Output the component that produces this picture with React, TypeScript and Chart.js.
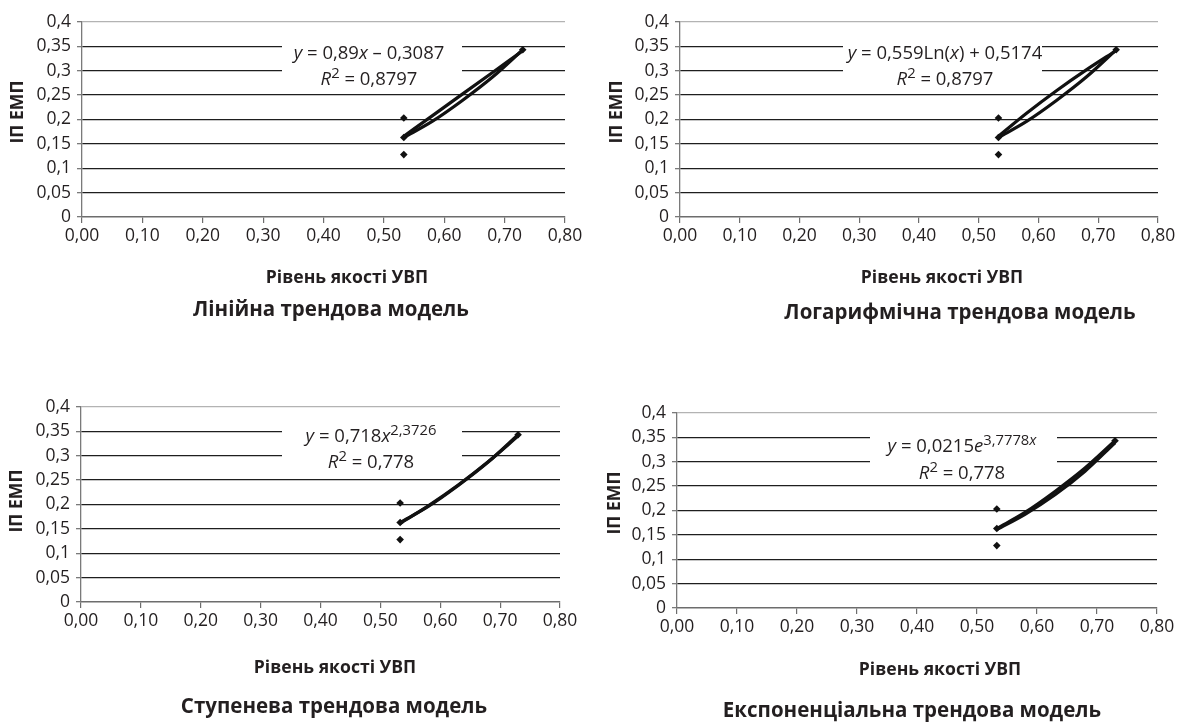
import React, { useEffect, useRef } from 'react';
import { Chart, registerables } from 'chart.js';

Chart.register(...registerables);

// ---------------- data ----------------
const curveX = [0.533, 0.58, 0.63, 0.68, 0.73];
const observedX = [0.533, 0.533, 0.533, 0.73];
const observedY = [0.203, 0.128, 0.163, 0.343];
const fittedCurve = [0.163, 0.196, 0.239, 0.287, 0.343];
const linearTrend = [0.1657, 0.2075, 0.252, 0.2965, 0.341];
const logTrend = [0.1657, 0.2129, 0.2591, 0.3018, 0.3415];
const powerTrend = [0.1613, 0.1972, 0.2399, 0.2876, 0.3403];
const expTrend = [0.161, 0.1923, 0.2323, 0.2806, 0.3389];

const xAxisTitle = 'Рівень якості УВП';
const yAxisTitle = 'ІП ЕМП';
const panelTitles = [
  'Лінійна трендова модель',
  'Логарифмічна трендова модель',
  'Ступенева трендова модель',
  'Експоненціальна трендова модель',
];

type Seg = { t: string; i?: boolean; sup?: boolean };

const linearEq: Seg[][] = [
  [{ t: 'y', i: true }, { t: ' = 0,89' }, { t: 'x', i: true }, { t: ' – 0,3087' }],
  [{ t: 'R', i: true }, { t: '2', sup: true }, { t: ' = 0,8797' }],
];
const logEq: Seg[][] = [
  [{ t: 'y', i: true }, { t: ' = 0,559Ln(' }, { t: 'x', i: true }, { t: ') + 0,5174' }],
  [{ t: 'R', i: true }, { t: '2', sup: true }, { t: ' = 0,8797' }],
];
const powerEq: Seg[][] = [
  [{ t: 'y', i: true }, { t: ' = 0,718' }, { t: 'x', i: true }, { t: '2,3726', sup: true }],
  [{ t: 'R', i: true }, { t: '2', sup: true }, { t: ' = 0,778' }],
];
const expEq: Seg[][] = [
  [{ t: 'y', i: true }, { t: ' = 0,0215' }, { t: 'e', i: true }, { t: '3,7778', sup: true }, { t: 'x', i: true, sup: true }],
  [{ t: 'R', i: true }, { t: '2', sup: true }, { t: ' = 0,778' }],
];

// ---------------- layout ----------------
const FONT = '"Open Sans", "Noto Sans", sans-serif';
const INK = '#231f20';

interface PanelSpec {
  ox: number; oy: number; w: number; h: number;
  L: number; R: number; T: number; B: number; // plot area, page coords
  trend: number[];
  eq: Seg[][];
  box: [number, number, number, number]; // x0, x1, y0, y1 page coords
  eqCx: number; eqY: [number, number];
  yT: [number, number]; xT: [number, number]; tT: [number, number];
  title: string;
}

const panels: PanelSpec[] = [
  {
    ox: 0, oy: 0, w: 596, h: 361, L: 82, R: 565, T: 22, B: 217,
    trend: linearTrend, eq: linearEq, box: [282, 462, 36, 88], eqCx: 369, eqY: [52, 78],
    yT: [18, 112], xT: [347, 278], tT: [331, 310], title: panelTitles[0],
  },
  {
    ox: 596, oy: 0, w: 596, h: 361, L: 680, R: 1158, T: 22, B: 217,
    trend: logTrend, eq: logEq, box: [843, 1042, 36, 88], eqCx: 945, eqY: [52, 78],
    yT: [617, 112], xT: [942, 278], tT: [960, 313], title: panelTitles[1],
  },
  {
    ox: 0, oy: 361, w: 596, h: 361, L: 81, R: 560, T: 407, B: 602,
    trend: powerTrend, eq: powerEq, box: [282, 462, 421, 473], eqCx: 371, eqY: [435, 461],
    yT: [17, 501], xT: [335, 668], tT: [334, 707], title: panelTitles[2],
  },
  {
    ox: 596, oy: 361, w: 596, h: 361, L: 677, R: 1157, T: 413, B: 608,
    trend: expTrend, eq: expEq, box: [870, 1057, 430, 483], eqCx: 962, eqY: [445, 472],
    yT: [615, 503], xT: [940, 670], tT: [912, 711], title: panelTitles[3],
  },
];

function drawRich(ctx: CanvasRenderingContext2D, segs: Seg[], cx: number, cy: number, size: number) {
  const fontOf = (s: Seg) => `${s.i ? 'italic ' : ''}${s.sup ? size * 0.8 : size}px ${FONT}`;
  let total = 0;
  const widths = segs.map((s) => {
    ctx.font = fontOf(s);
    const w = ctx.measureText(s.t).width;
    total += w;
    return w;
  });
  let x = cx - total / 2;
  const base = cy + size * 0.36;
  ctx.textAlign = 'left';
  ctx.textBaseline = 'alphabetic';
  segs.forEach((s, k) => {
    ctx.font = fontOf(s);
    ctx.fillText(s.t, x, s.sup ? base - size * 0.38 : base);
    x += widths[k];
  });
}

function Panel({ spec }: { spec: PanelSpec }) {
  const ref = useRef<HTMLCanvasElement | null>(null);
  useEffect(() => {
    if (!ref.current) return;
    const lx = (v: number) => v - spec.ox;
    const ly = (v: number) => v - spec.oy;
    const xAxisH = 40;
    const annot = {
      id: 'annot' + spec.title,
      beforeDatasetsDraw(chart: any) {
        const ctx: CanvasRenderingContext2D = chart.ctx;
        ctx.save();
        ctx.fillStyle = '#ffffff';
        const [x0, x1, y0, y1] = spec.box;
        ctx.fillRect(lx(x0), ly(y0), x1 - x0, y1 - y0);
        ctx.fillStyle = INK;
        drawRich(ctx, spec.eq[0], lx(spec.eqCx), ly(spec.eqY[0]), 18.5);
        drawRich(ctx, spec.eq[1], lx(spec.eqCx), ly(spec.eqY[1]), 18.5);
        ctx.restore();
      },
      afterDraw(chart: any) {
        const ctx: CanvasRenderingContext2D = chart.ctx;
        ctx.save();
        ctx.fillStyle = INK;
        ctx.textAlign = 'center';
        ctx.textBaseline = 'middle';
        ctx.font = `bold 17.6px ${FONT}`;
        ctx.fillText(xAxisTitle, lx(spec.xT[0]), ly(spec.xT[1]));
        ctx.save();
        ctx.translate(lx(spec.yT[0]), ly(spec.yT[1]));
        ctx.rotate(-Math.PI / 2);
        ctx.fillText(yAxisTitle, 0, 0);
        ctx.restore();
        ctx.font = `bold 20.5px ${FONT}`;
        ctx.fillText(spec.title, lx(spec.tT[0]), ly(spec.tT[1]));
        ctx.restore();
      },
    };
    const chart = new Chart(ref.current, {
      type: 'scatter',
      data: {
        datasets: [
          {
            data: curveX.map((x, k) => ({ x, y: spec.trend[k] })),
            showLine: true,
            borderColor: '#111',
            borderWidth: 3.2,
            pointRadius: 0,
            cubicInterpolationMode: 'monotone',
          } as any,
          {
            data: curveX.map((x, k) => ({ x, y: fittedCurve[k] })),
            showLine: true,
            borderColor: '#111',
            borderWidth: 3.2,
            pointRadius: 0,
            cubicInterpolationMode: 'monotone',
          } as any,
          {
            data: observedX.map((x, k) => ({ x, y: observedY[k] })),
            showLine: false,
            pointStyle: 'rectRot',
            pointRadius: 3.8,
            backgroundColor: '#111',
            borderWidth: 0,
          } as any,
        ],
      },
      options: {
        responsive: false,
        animation: false,
        events: [],
        layout: {
          padding: {
            left: 0,
            top: ly(spec.T),
            right: spec.w - lx(spec.R),
            bottom: spec.h - ly(spec.B) - xAxisH,
          },
        },
        plugins: { legend: { display: false }, tooltip: { enabled: false }, title: { display: false } },
        scales: {
          x: {
            type: 'linear',
            min: 0,
            max: 0.8,
            afterFit: (s: any) => { s.height = xAxisH; },
            border: { display: true, color: '#6d6d6d', width: 1.6 },
            grid: { display: true, drawOnChartArea: false, drawTicks: true, tickLength: 6, color: '#6d6d6d', lineWidth: 1.2 },
            ticks: {
              stepSize: 0.1,
              autoSkip: false,
              maxRotation: 0,
              padding: 3,
              color: INK,
              font: { family: FONT, size: 17.5 },
              callback: (v: any) => Number(v).toFixed(2).replace('.', ','),
            },
          },
          y: {
            type: 'linear',
            min: 0,
            max: 0.4,
            afterFit: (s: any) => { s.width = lx(spec.L); },
            border: { display: true, color: '#7a7a7a', width: 1.3 },
            grid: {
              display: true,
              drawTicks: true,
              tickLength: 5,
              tickColor: '#7a7a7a',
              lineWidth: 1.3,
              color: (c: any) => {
                const v = c.tick ? c.tick.value : 0;
                if (Math.abs(v - 0.4) < 1e-6) return '#b3b3b3';
                if (Math.abs(v) < 1e-6) return 'rgba(0,0,0,0)';
                return '#1e1e1e';
              },
            },
            ticks: {
              stepSize: 0.05,
              padding: 6,
              color: INK,
              font: { family: FONT, size: 17.5 },
              callback: (v: any) => String(parseFloat(Number(v).toFixed(2))).replace('.', ','),
            },
          },
        },
      },
      plugins: [annot],
    } as any);
    return () => chart.destroy();
  }, [spec]);
  return (
    <canvas
      ref={ref}
      width={spec.w}
      height={spec.h}
      style={{ position: 'absolute', left: spec.ox, top: spec.oy, width: spec.w, height: spec.h }}
    />
  );
}

export default function App() {
  return (
    <div style={{ position: 'absolute', left: 0, top: 0, width: 1192, height: 722, background: '#fff', overflow: 'hidden' }}>
      {panels.map((p) => (
        <Panel key={p.title} spec={p} />
      ))}
    </div>
  );
}
